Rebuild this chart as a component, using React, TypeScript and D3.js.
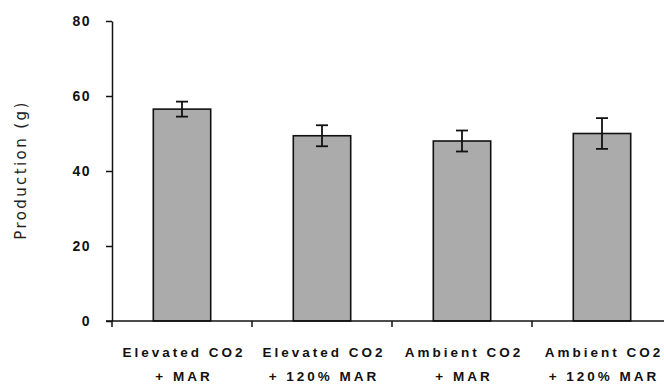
import React, { useEffect, useRef } from "react";
import * as d3 from "d3";

// DATA
const categories = ["Elevated CO2|+ MAR", "Elevated CO2|+ 120% MAR", "Ambient CO2|+ MAR", "Ambient CO2|+ 120% MAR"];
const production = [56.5, 49.4, 48.0, 50.0];
const errors = [2.0, 2.8, 2.8, 4.1];
const yTicks = [0, 20, 40, 60, 80];

export default function App() {
  const ref = useRef<SVGSVGElement | null>(null);

  useEffect(() => {
    const width = 664;
    const height = 389;
    const left = 112;
    const top = 21;
    const bottom = 321;

    const svg = d3.select(ref.current);
    svg.selectAll("*").remove();
    svg.append("rect").attr("width", width).attr("height", height).attr("fill", "#fff");

    // SCALES
    const xScale = d3
      .scaleBand()
      .domain(categories)
      .range([left, left + 560])
      .paddingInner(0.59)
      .paddingOuter(0.295);
    const yScale = d3.scaleLinear().domain([0, 80]).range([bottom, top]);

    // BARS
    svg
      .append("g")
      .selectAll("rect")
      .data(production)
      .join("rect")
      .attr("x", (d, i) => xScale(categories[i])!)
      .attr("y", (d) => yScale(d))
      .attr("width", xScale.bandwidth())
      .attr("height", (d) => yScale(0) - yScale(d))
      .attr("fill", "#ababab")
      .attr("stroke", "#111")
      .attr("stroke-width", 1.6);

    // ERROR BARS
    const err = svg.append("g").attr("stroke", "#111").attr("stroke-width", 1.8);
    production.forEach((v, i) => {
      const cx = xScale(categories[i])! + xScale.bandwidth() / 2;
      const hi = yScale(v + errors[i]);
      const lo = yScale(v - errors[i]);
      err.append("line").attr("x1", cx).attr("x2", cx).attr("y1", hi).attr("y2", lo);
      err.append("line").attr("x1", cx - 6).attr("x2", cx + 6).attr("y1", hi).attr("y2", hi);
      err.append("line").attr("x1", cx - 6).attr("x2", cx + 6).attr("y1", lo).attr("y2", lo);
    });

    // Y AXIS
    const yAxis = svg
      .append("g")
      .attr("transform", `translate(${left},0)`)
      .call(d3.axisLeft(yScale).tickValues(yTicks).tickSize(6).tickSizeOuter(0).tickPadding(15));
    yAxis.select(".domain").attr("stroke", "#111").attr("stroke-width", 1.5);
    yAxis.selectAll(".tick line").attr("stroke", "#111").attr("stroke-width", 1.5);
    yAxis
      .selectAll("text")
      .attr("fill", "#111")
      .attr("font-family", "Liberation Sans, Arial, sans-serif")
      .attr("font-weight", "bold")
      .attr("font-size", 14)
      .attr("letter-spacing", 1.5);

    // X AXIS
    svg
      .append("line")
      .attr("x1", 106)
      .attr("x2", width)
      .attr("y1", bottom)
      .attr("y2", bottom)
      .attr("stroke", "#111")
      .attr("stroke-width", 1.5);
    const boundaries = categories.map((c) => xScale(c)! - (xScale.step() - xScale.bandwidth()) / 2);
    svg
      .append("g")
      .selectAll("line")
      .data(boundaries)
      .join("line")
      .attr("x1", (d) => d)
      .attr("x2", (d) => d)
      .attr("y1", bottom)
      .attr("y2", bottom + 6)
      .attr("stroke", "#111")
      .attr("stroke-width", 1.5);

    const labels = svg
      .append("g")
      .selectAll("text")
      .data(categories)
      .join("text")
      .attr("x", (d) => xScale(d)! + xScale.bandwidth() / 2 + 2)
      .attr("y", 357)
      .attr("text-anchor", "middle")
      .attr("fill", "#111")
      .attr("font-family", "Liberation Sans, Arial, sans-serif")
      .attr("font-weight", "bold")
      .attr("font-size", 13.5)
      .attr("letter-spacing", 3);
    labels
      .selectAll("tspan")
      .data((d) => d.split("|"))
      .join("tspan")
      .attr("x", function () {
        return (this as SVGTSpanElement).parentElement!.getAttribute("x");
      })
      .attr("dy", (d, i) => (i === 0 ? 0 : 24))
      .text((d) => d);

    // Y TITLE
    svg
      .append("text")
      .attr("transform", `translate(26,170) rotate(-90)`)
      .attr("text-anchor", "middle")
      .attr("fill", "#222")
      .attr("font-family", "DejaVu Sans, sans-serif")
      .attr("font-size", 15)
      .attr("letter-spacing", 2.4)
      .text("Production (g)");
  }, []);

  return (
    <svg
      ref={ref}
      width={664}
      height={389}
      style={{ position: "absolute", left: 0, top: 0, display: "block" }}
    />
  );
}
